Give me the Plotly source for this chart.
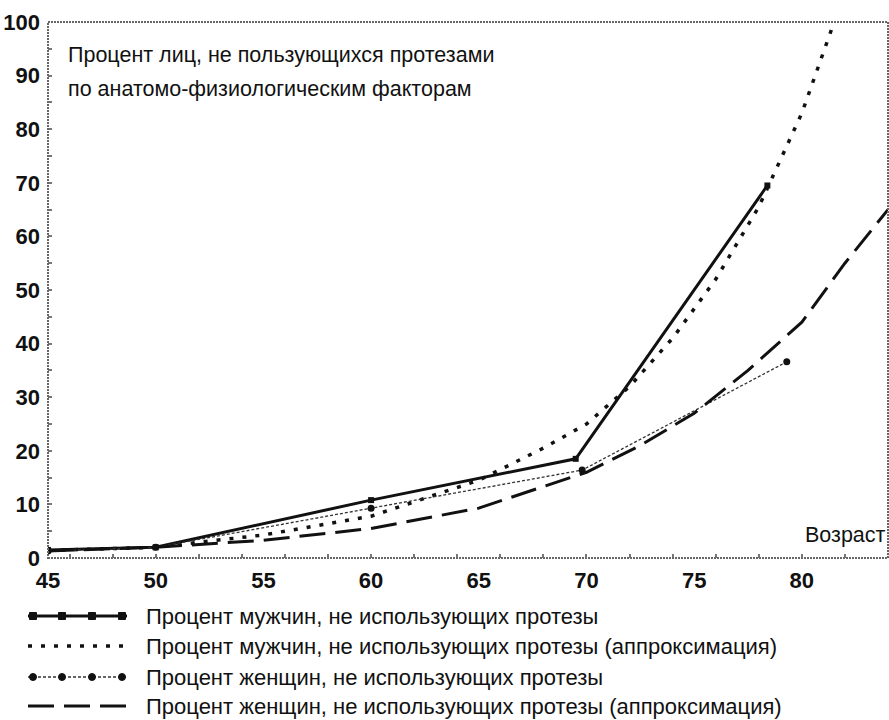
import plotly.graph_objects as go

# ---- data ----
age_men = [45, 50, 60, 69.5, 78.4]
pct_men = [1.5, 2.0, 10.8, 18.5, 69.5]
age_women = [45, 50, 60, 69.8, 79.3]
pct_women = [1.3, 2.0, 9.3, 16.4, 36.6]
age_men_fit = [45, 50, 55, 60, 65, 68, 70, 72, 74, 76, 78, 80, 81.5]
pct_men_fit = [1.4, 2.0, 4.3, 7.8, 14.5, 20.5, 25.0, 32.0, 41.0, 52.0, 65.5, 83.0, 100.0]
age_women_fit = [45, 50, 55, 60, 65, 70, 72.5, 75, 77.5, 80, 82, 84]
pct_women_fit = [1.3, 2.0, 3.3, 5.5, 9.3, 16.0, 21.0, 27.0, 35.0, 44.0, 55.0, 65.0]

x_labels = [45, 50, 55, 60, 65, 70, 75, 80]
x_minor_ticks = list(range(46, 85, 2))

names = [
    "Процент мужчин, не использующих протезы",
    "Процент мужчин, не использующих протезы (аппроксимация)",
    "Процент женщин, не использующих протезы",
    "Процент женщин, не использующих протезы (аппроксимация)",
]
title_lines = ["Процент лиц, не пользующихся протезами",
               "по анатомо-физиологическим факторам"]
x_title = "Возраст"

FONT = "Liberation Sans Narrow, Arial Narrow, Liberation Sans, Arial, sans-serif"
W, H = 889, 720
ML, MR, MT, MB = 48, 1, 22, 162
PW, PH = W - ML - MR, H - MT - MB


def px2x(px):
    return (px - ML) / PW


def px2y(py):
    return (H - MB - py) / PH


styles = [
    dict(line=dict(color="#111", width=3, dash="solid"),
         marker=dict(symbol="square", size=6, color="#111"), mode="lines+markers"),
    dict(line=dict(color="#111", width=3.5, dash="4px,9px"), mode="lines"),
    dict(line=dict(color="#333", width=1.3, dash="3px,2px"),
         marker=dict(symbol="circle", size=7, color="#111"), mode="lines+markers"),
    dict(line=dict(color="#111", width=3, dash="26px,10px"), mode="lines"),
]
series = [(age_men, pct_men), (age_men_fit, pct_men_fit),
          (age_women, pct_women), (age_women_fit, pct_women_fit)]

fig = go.Figure()
for (xs, ys), st, nm in zip(series, styles, names):
    fig.add_trace(go.Scatter(x=xs, y=ys, name=nm, showlegend=False,
                             cliponaxis=True, **st))

# invisible trace to carry the tick-only x axis
fig.add_trace(go.Scatter(x=[45, 84], y=[0, 0], xaxis="x2", mode="markers",
                         marker=dict(opacity=0), showlegend=False, hoverinfo="skip"))

TICKFONT = dict(size=22, family=FONT, weight="bold", color="#111")
fig.update_layout(
    width=W, height=H,
    margin=dict(l=ML, r=MR, t=MT, b=MB),
    paper_bgcolor="white", plot_bgcolor="white",
    font=dict(family=FONT, color="#111"),
    xaxis=dict(range=[45, 84], tickvals=x_labels, ticks="", showgrid=False,
               zeroline=False, showline=False, tickfont=TICKFONT, ticklabelstandoff=7),
    xaxis2=dict(range=[45, 84], overlaying="x", side="bottom", tickvals=x_minor_ticks,
                ticks="inside", ticklen=4, tickcolor="#777", tickwidth=1.5,
                showticklabels=False, showgrid=False, zeroline=False, showline=False),
    yaxis=dict(range=[0, 100], dtick=10, ticks="inside", ticklen=4, tickcolor="#777",
               tickwidth=1.5, minor=dict(dtick=5, ticks="inside", ticklen=4,
                                         tickcolor="#777", tickwidth=1.5),
               showgrid=False, zeroline=False, showline=False,
               tickfont=TICKFONT, ticklabelstandoff=7),
)

shapes = []
# dotted frame of the plot area
shapes.append(dict(type="rect", xref="paper", yref="paper", x0=0, x1=1, y0=0, y1=1,
                   line=dict(color="#666", width=2, dash="2px,1px"), layer="above"))

annotations = []
for txt, cy in zip(title_lines, [55, 89]):
    annotations.append(dict(text=txt, xref="paper", yref="paper", x=px2x(66), y=px2y(cy),
                            xanchor="left", yanchor="middle", align="left", showarrow=False,
                            font=dict(size=21.5, family=FONT, color="#111")))
annotations.append(dict(text=x_title, xref="paper", yref="paper", x=1.0, y=px2y(535),
                        xanchor="right", yanchor="middle", showarrow=False,
                        font=dict(size=21.5, family=FONT, color="#111")))

# custom legend with long sample lines
rows_py = [616, 646, 677, 706]
sx0, sx1, tx = 28, 127, 144
for i, (nm, st) in enumerate(zip(names, styles)):
    yp = px2y(rows_py[i])
    ln = st["line"]
    shapes.append(dict(type="line", xref="paper", yref="paper",
                       x0=px2x(sx0), x1=px2x(sx1), y0=yp, y1=yp,
                       line=dict(color=ln["color"], width=ln["width"], dash=ln["dash"])))
    if "marker" in st:
        kind = "rect" if st["marker"]["symbol"] == "square" else "circle"
        r = 3.5
        for mx in [33, 62, 92, 122]:
            shapes.append(dict(type=kind, xref="paper", yref="paper",
                               xsizemode="pixel", ysizemode="pixel",
                               xanchor=px2x(mx), yanchor=yp,
                               x0=-r, x1=r, y0=-r, y1=r,
                               fillcolor="#111", line=dict(color="#111", width=1)))
    annotations.append(dict(text=nm, xref="paper", yref="paper", x=px2x(tx), y=yp,
                            xanchor="left", yanchor="middle", showarrow=False,
                            font=dict(size=22, family=FONT, color="#111")))

fig.update_layout(shapes=shapes, annotations=annotations)
fig.write_html("out.html",
               config={"displayModeBar": False},
               post_script="document.body.style.margin='0';"
                           "document.body.style.overflow='hidden';")
